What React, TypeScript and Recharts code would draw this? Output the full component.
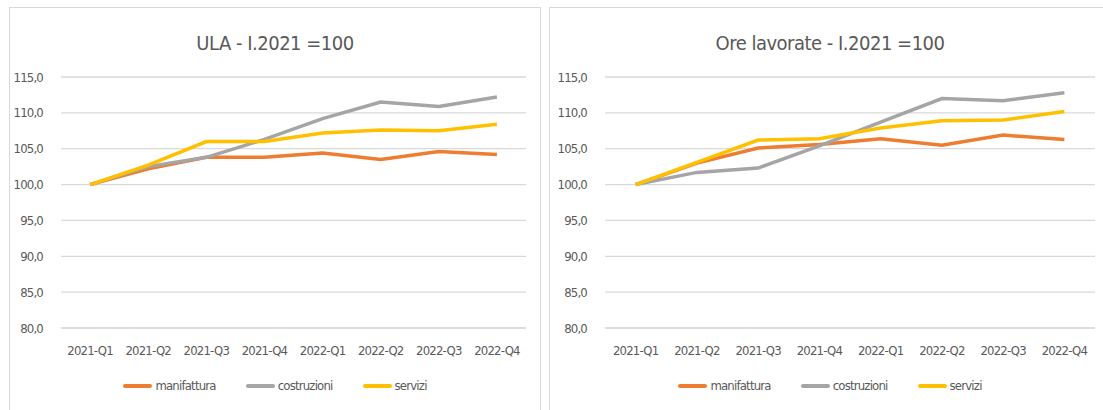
import { LineChart, Line, XAxis, YAxis, CartesianGrid } from 'recharts';

const quarters = ['2021-Q1', '2021-Q2', '2021-Q3', '2021-Q4', '2022-Q1', '2022-Q2', '2022-Q3', '2022-Q4'];
const yTicks = [80, 85, 90, 95, 100, 105, 110, 115];

const ulaManifattura = [100, 102.2, 103.8, 103.8, 104.4, 103.5, 104.6, 104.2];
const ulaCostruzioni = [100, 102.5, 103.8, 106.3, 109.2, 111.5, 110.9, 112.2];
const ulaServizi = [100, 102.7, 106.0, 106.0, 107.2, 107.6, 107.5, 108.4];

const oreManifattura = [100, 103.0, 105.1, 105.6, 106.4, 105.5, 106.9, 106.3];
const oreCostruzioni = [100, 101.7, 102.3, 105.4, 108.7, 112.0, 111.7, 112.8];
const oreServizi = [100, 103.1, 106.2, 106.4, 107.9, 108.9, 109.0, 110.2];

const seriesNames = ['manifattura', 'costruzioni', 'servizi'];
const seriesColors = ['#ED7D31', '#A5A5A5', '#FFC000'];

const FONT = '"Liberation Sans Narrow", "DejaVu Sans Condensed", "Liberation Sans", sans-serif';
const TEXT = '#595959';
const GRID = '#D9D9D9';

function buildRows(m: number[], c: number[], s: number[]) {
  return quarters.map((q, i) => ({ q, manifattura: m[i], costruzioni: c[i], servizi: s[i] }));
}

interface PanelProps {
  title: string;
  rows: ReturnType<typeof buildRows>;
  left: number;
  width: number;
  yWidth: number;
  rightMargin: number;
}

const tickStyle = { fill: TEXT, fontSize: 13, fontFamily: FONT, letterSpacing: -0.8 };

function Panel({ title, rows, left, width, yWidth, rightMargin }: PanelProps) {
  const height = 420;
  return (
    <div
      style={{
        position: 'absolute',
        left,
        top: 7,
        width,
        height,
        border: `1px solid ${GRID}`,
        boxSizing: 'border-box',
        background: '#fff',
        fontFamily: FONT,
      }}
    >
      <div
        style={{
          position: 'absolute',
          top: 21,
          left: 0,
          width: '100%',
          textAlign: 'center',
          fontSize: 20,
          letterSpacing: -0.5,
          color: TEXT,
          lineHeight: '28px',
        }}
      >
        {title}
      </div>
      <LineChart
        width={width - 2}
        height={height - 2}
        data={rows}
        margin={{ top: 69, right: rightMargin, left: 0, bottom: 68 }}
        style={{ position: 'absolute', left: 0, top: 0 }}
      >
        <CartesianGrid vertical={false} stroke={GRID} strokeWidth={1.3} />
        <XAxis
          dataKey="q"
          scale="band"
          axisLine={{ stroke: GRID }}
          tickLine={false}
          tickMargin={12}
          tick={tickStyle}
          interval={0}
          height={30}
        />
        <YAxis
          domain={[80, 115]}
          ticks={yTicks}
          width={yWidth}
          axisLine={false}
          tickLine={false}
          tickMargin={12}
          tickFormatter={(v: number) => v.toFixed(1).replace('.', ',')}
          tick={tickStyle}
        />
        {seriesNames.map((name, i) => (
          <Line
            key={name}
            dataKey={name}
            stroke={seriesColors[i]}
            strokeWidth={3.5}
            dot={false}
            type="linear"
            isAnimationActive={false}
          />
        ))}
      </LineChart>
      <div
        style={{
          position: 'absolute',
          top: 370,
          left: 0,
          width: '100%',
          display: 'flex',
          justifyContent: 'center',
          gap: 30,
          fontSize: 13,
          letterSpacing: -0.8,
          color: TEXT,
        }}
      >
        {seriesNames.map((name, i) => (
          <div key={name} style={{ display: 'flex', alignItems: 'center', gap: 3 }}>
            <span style={{ display: 'inline-block', width: 29, height: 4, borderRadius: 2, background: seriesColors[i] }} />
            <span>{name}</span>
          </div>
        ))}
      </div>
    </div>
  );
}

export default function App() {
  return (
    <div style={{ position: 'fixed', left: 0, top: 0, width: 1103, height: 410, overflow: 'hidden', background: '#fff' }}>
      <Panel
        title="ULA - I.2021 =100"
        rows={buildRows(ulaManifattura, ulaCostruzioni, ulaServizi)}
        left={9}
        width={532}
        yWidth={51}
        rightMargin={14}
      />
      <Panel
        title="Ore lavorate - I.2021 =100"
        rows={buildRows(oreManifattura, oreCostruzioni, oreServizi)}
        left={549}
        width={562}
        yWidth={55}
        rightMargin={15}
      />
    </div>
  );
}
